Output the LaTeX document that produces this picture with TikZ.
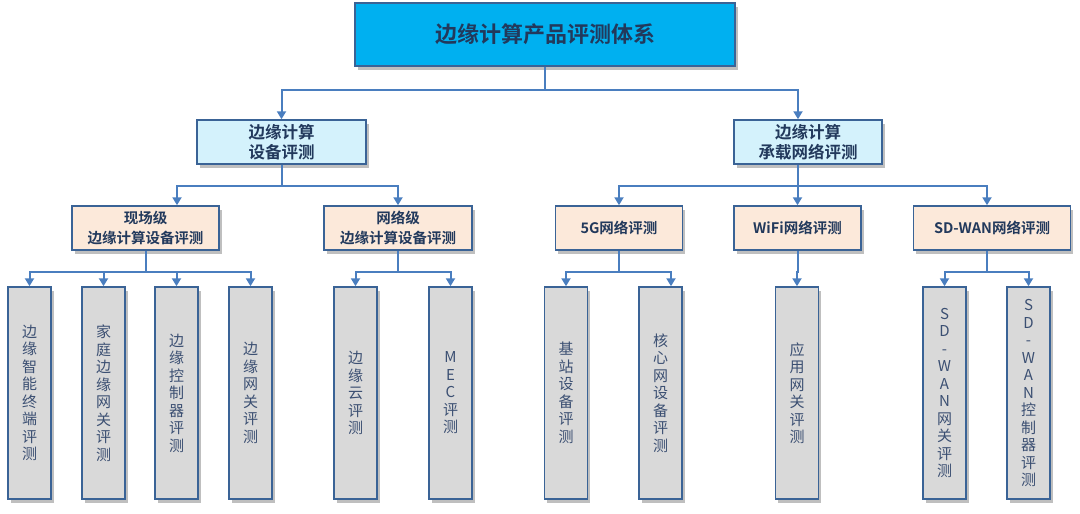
\documentclass[tikz,border=0pt]{standalone}
\usepackage{fontspec}
\newfontfamily\cjk{Noto Sans CJK SC}[BoldFont={Noto Sans CJK SC Bold}]
\usetikzlibrary{arrows.meta,shadows}
\definecolor{topfill}{HTML}{00B0F0}
\definecolor{lvtwofill}{HTML}{D4F2FC}
\definecolor{lvthreefill}{HTML}{FCE9DA}
\definecolor{lvfourfill}{HTML}{D9D9D9}
\definecolor{bordc}{HTML}{3A6396}
\definecolor{connc}{HTML}{4A7EBF}
\definecolor{boldtext}{HTML}{22395C}
\definecolor{vtext}{HTML}{3B4F72}
\begin{document}
\begin{tikzpicture}[x=1pt,y=-1pt,
  box/.style={draw=bordc, line width=1.5pt, inner sep=0pt, align=center,
    drop shadow={shadow xshift=2.5pt, shadow yshift=-4pt, fill=black, opacity=0.25}},
  topbox/.style={box, fill=topfill, minimum width=380pt, minimum height=63pt,
    text=boldtext, font=\cjk\bfseries\fontsize{22}{26}\selectfont},
  twobox/.style={box, fill=lvtwofill, minimum height=44pt,
    text=boldtext, font=\cjk\bfseries\fontsize{16.5}{20}\selectfont},
  threebox/.style={box, fill=lvthreefill, minimum height=44pt,
    text=boldtext, font=\cjk\bfseries\fontsize{14.5}{20}\selectfont},
  fourbox/.style={box, fill=lvfourfill, minimum width=43pt, minimum height=212pt,
    text=vtext, font=\cjk\fontsize{15}{17.5}\selectfont},
  conn/.style={draw=connc, line width=2pt, -{Triangle[width=9pt,length=8pt]}}
]
\useasboundingbox (0,0) rectangle (1080,514);

% top
\node[topbox] (top) at (545,34.5) {边缘计算产品评测体系};

% level 2
\node[twobox, minimum width=169pt] (l2a) at (281.5,142) {边缘计算\\设备评测};
\node[twobox, minimum width=148pt] (l2b) at (808,142) {边缘计算\\承载网络评测};

% level 3
\node[threebox, minimum width=147pt] (l3a) at (145.5,228) {现场级\\边缘计算设备评测};
\node[threebox, minimum width=148pt] (l3b) at (398,228) {网络级\\边缘计算设备评测};
\node[threebox, minimum width=127pt] (l3c) at (619,228) {5G网络评测};
\node[threebox, minimum width=127pt] (l3d) at (797.5,228) {WiFi网络评测};
\node[threebox, minimum width=157pt] (l3e) at (992,228) {SD-WAN网络评测};

% level 4
\node[fourbox] (l4a) at (29.5,393) {边\\缘\\智\\能\\终\\端\\评\\测};
\node[fourbox] (l4b) at (103.5,393) {家\\庭\\边\\缘\\网\\关\\评\\测};
\node[fourbox] (l4c) at (176.5,393) {边\\缘\\控\\制\\器\\评\\测};
\node[fourbox] (l4d) at (250.5,393) {边\\缘\\网\\关\\评\\测};
\node[fourbox] (l4e) at (355.5,393) {边\\缘\\云\\评\\测};
\node[fourbox] (l4f) at (450.5,393) {M\\E\\C\\评\\测};
\node[fourbox] (l4g) at (566,393) {基\\站\\设\\备\\评\\测};
\node[fourbox] (l4h) at (660.5,393) {核\\心\\网\\设\\备\\评\\测};
\node[fourbox] (l4i) at (797,393) {应\\用\\网\\关\\评\\测};
\node[fourbox] (l4j) at (944.5,393) {S\\D\\-\\W\\A\\N\\网\\关\\评\\测};
\node[fourbox] (l4k) at (1028.5,393) {S\\D\\-\\W\\A\\N\\控\\制\\器\\评\\测};

% connectors top -> level 2
\draw[conn] (top.south) -- ++(0,23) -| (l2a.north);
\draw[conn] (top.south) -- ++(0,23) -| ([xshift=-10pt]l2b.north);

% level 2 -> level 3
\draw[conn] (l2a.south) -- ++(0,21) -| ([xshift=31.5pt]l3a.north);
\draw[conn] (l2a.south) -- ++(0,21) -| (l3b.north);
\draw[conn] ([xshift=-10pt]l2b.south) -- ++(0,21) -| (l3c.north);
\draw[conn] ([xshift=-10pt]l2b.south) -- ++(0,21) -| (l3d.north);
\draw[conn] ([xshift=-10pt]l2b.south) -- ++(0,21) -| ([xshift=-5pt]l3e.north);

% level 3 -> level 4
\draw[conn] (l3a.south) -- ++(0,21) -| (l4a.north);
\draw[conn] (l3a.south) -- ++(0,21) -| (l4b.north);
\draw[conn] (l3a.south) -- ++(0,21) -| (l4c.north);
\draw[conn] (l3a.south) -- ++(0,21) -| (l4d.north);
\draw[conn] (l3b.south) -- ++(0,21) -| (l4e.north);
\draw[conn] (l3b.south) -- ++(0,21) -| (l4f.north);
\draw[conn] (l3c.south) -- ++(0,21) -| (l4g.north);
\draw[conn] (l3c.south) -- ++(0,21) -| ([xshift=10.5pt]l4h.north);
\draw[conn] (l3d.south) -- ++(0,21) -| (l4i.north);
\draw[conn] ([xshift=-5pt]l3e.south) -- ++(0,21) -| (l4j.north);
\draw[conn] ([xshift=-5pt]l3e.south) -- ++(0,21) -| (l4k.north);
\end{tikzpicture}
\end{document}
